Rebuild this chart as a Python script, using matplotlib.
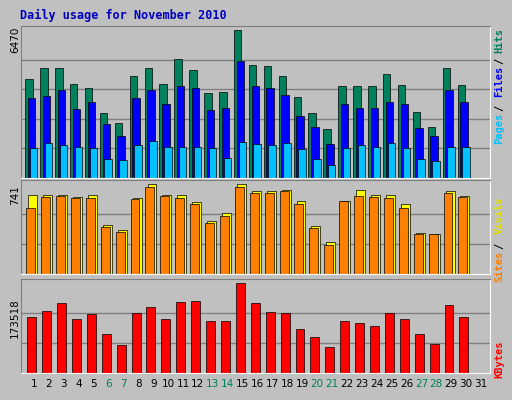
import matplotlib
matplotlib.use("Agg")
import matplotlib.pyplot as plt
import numpy as np

days = list(range(1, 32))
weekend = [6, 7, 13, 14, 20, 21, 27, 28]
hits = [4356,4840,4840,4136,3960,2860,2420,4488,4840,4136,5236,4752,3740,3784,6470,4972,4928,4488,3564,2860,2156,4048,4048,4048,4576,4092,2904,2244,4840,4092,0]
files = [3520,3608,3872,3036,3344,2376,1848,3520,3872,3256,4048,3960,2992,3080,5148,4048,3960,3652,2728,2244,1496,3256,3080,3080,3344,3256,2200,1848,3872,3344,0]
pages = [1320,1540,1452,1364,1320,836,792,1452,1628,1364,1364,1364,1320,880,1584,1496,1452,1540,1276,836,572,1320,1452,1364,1540,1320,836,748,1364,1364,0]
visits = [657,657,657,640,657,404,362,631,741,657,657,598,438,505,741,690,690,699,606,396,261,606,699,657,657,581,340,328,690,648,0]
sites = [547,640,648,631,631,387,345,623,724,648,631,581,421,480,716,674,674,690,581,379,244,606,648,640,631,547,328,328,674,640,0]
kbytes = [108000,120000,135000,104000,114000,75500,55000,116000,127000,104000,137000,139000,100000,100000,173518,135000,118000,116000,86000,69000,51000,100000,96000,92000,116000,104000,75500,57000,131000,108000,0]

BG = "#C0C0C0"
fig = plt.figure(figsize=(5.12, 4.0), dpi=100, facecolor=BG)
W, H = 512, 400
def ax_at(x0, y0, x1, y1):
    a = fig.add_axes([x0/W, 1-y1/H, (x1-x0)/W, (y1-y0)/H])
    a.set_facecolor(BG)
    for s in a.spines.values():
        s.set_color("#808080")
    a.spines["bottom"].set_color("white"); a.spines["right"].set_color("white")
    a.set_xlim(0.13, 31.6)
    a.set_xticks([]); a.set_yticks([])
    return a

fig.text(20/W, 1-15/H, "Daily usage for November 2010", color="#0000C0",
         fontsize=8.5, fontweight="bold", family="DejaVu Sans Mono", va="center")

x = np.array(days)
mono = dict(rotation=90, fontsize=7.5, ha="center", va="top", family="DejaVu Sans Mono", fontweight="bold")
# top panel
a1 = ax_at(21, 26, 490, 178)
a1.set_ylim(0, 6470*1.03)
for g in np.linspace(6470/5, 6470, 5)[:-1]:
    a1.axhline(g, color="#808080", lw=1, zorder=0)
a1.bar(x-0.33, hits, width=0.5, color="#00805C", edgecolor="black", lw=0.5)
a1.bar(x-0.15, files, width=0.5, color="#0000FF", edgecolor="black", lw=0.5)
a1.bar(x-0.02, pages, width=0.5, color="#00C0FF", edgecolor="black", lw=0.5)
fig.text(15/W, 1-40/H, "6470", rotation=90, fontsize=7.5, va="center", ha="center")
fig.text(499/W, 1-28/H, "Hits", color="#00805C", **mono)
fig.text(499/W, 1-58/H, "/", **mono)
fig.text(499/W, 1-66/H, "Files", color="#0000FF", **mono)
fig.text(499/W, 1-105/H, "/", **mono)
fig.text(499/W, 1-113/H, "Pages", color="#00C0FF", **mono)

# middle
a2 = ax_at(21, 180, 490, 274)
a2.set_ylim(0, 741*1.05)
for g in np.linspace(741/3, 741, 3)[:-1]:
    a2.axhline(g, color="#808080", lw=1, zorder=0)
a2.bar(x-0.08, visits, width=0.6, color="#FFFF00", edgecolor="black", lw=0.5)
a2.bar(x-0.22, sites, width=0.6, color="#FF8000", edgecolor="black", lw=0.5)
fig.text(15/W, 1-195/H, "741", rotation=90, fontsize=7.5, va="center", ha="center")
fig.text(499/W, 1-197/H, "Visits", color="#E0E000", **mono)
fig.text(499/W, 1-243/H, "/", **mono)
fig.text(499/W, 1-251/H, "Sites", color="#FF8000", **mono)

# bottom
a3 = ax_at(21, 279, 490, 373)
a3.set_ylim(0, 173518*1.05)
for g in np.linspace(173518/3, 173518, 3)[:-1]:
    a3.axhline(g, color="#808080", lw=1, zorder=0)
a3.bar(x-0.15, kbytes, width=0.6, color="#FF0000", edgecolor="black", lw=0.5)
fig.text(15/W, 1-318/H, "173518", rotation=90, fontsize=7.5, va="center", ha="center")
fig.text(499/W, 1-340/H, "KBytes", color="#FF0000", **mono)

a3.set_xticks(days)
a3.set_xticklabels([str(d) for d in days], fontsize=7.5)
a3.tick_params(axis="x", length=0, pad=4)
for lbl, d in zip(a3.get_xticklabels(), days):
    if d in weekend:
        lbl.set_color("#00805C")

fig.savefig("out.png", dpi=100, facecolor=BG)
